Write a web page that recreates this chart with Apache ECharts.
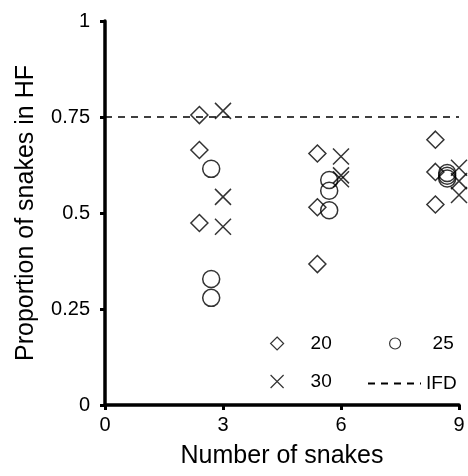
<!DOCTYPE html>
<html>
<head>
<meta charset="utf-8">
<script src="https://cdn.jsdelivr.net/npm/echarts@6/dist/echarts.min.js"></script>
<style>
html,body{margin:0;padding:0;background:#fff;}
#chart{width:468px;height:476px;}
</style>
</head>
<body>
<div id="chart"></div>
<script>
// Data
const snakeCounts = [3, 6, 9];
const xTicks = [0, 3, 6, 9];
const yTicks = [0, 0.25, 0.5, 0.75, 1];
const legendNames = ['20', '25', '30', 'IFD'];
// proportion of snakes in HF, per snake count group (3, 6, 9)
const prop20 = [[0.755, 0.664, 0.474], [0.655, 0.515, 0.367], [0.691, 0.607, 0.522]];
const prop25 = [[0.615, 0.328, 0.279], [0.586, 0.558, 0.507], [0.604, 0.597, 0.590]];
const prop30 = [[0.766, 0.542, 0.464], [0.647, 0.598, 0.588], [0.618, 0.583, 0.547]];
const ifdValue = 0.75;

const FONT = 'Arial, "Liberation Sans", sans-serif';
function pts(groups, offset) {
  const out = [];
  groups.forEach((vals, i) => vals.forEach(v => out.push([snakeCounts[i] + offset, v])));
  return out;
}
const xPath = 'path://M0,0L10,10M10,0L0,10';
const mk = { color: 'rgba(0,0,0,0)', borderColor: '#000', borderWidth: 1.5 };

const chart = echarts.init(document.getElementById('chart'), null, { renderer: 'canvas' });
function legendAt(name, left, top, w, h, padLeft, itemStyle) {
  return {
    data: [name], left: left, top: top, itemWidth: w, itemHeight: h,
    padding: 0, itemGap: 0, selectedMode: false,
    itemStyle: itemStyle,
    textStyle: { fontFamily: FONT, fontSize: 19, color: '#000', padding: [0, 0, 0, padLeft] }
  };
}
const legMark = { color: 'rgba(0,0,0,0)', borderColor: '#000', borderWidth: 1.2 };
const legNone = { color: 'rgba(0,0,0,0)', borderColor: 'rgba(0,0,0,0)', borderWidth: 0 };
chart.setOption({
  animation: false,
  backgroundColor: '#fff',
  grid: { left: 105, right: 9, top: 21, bottom: 71, containLabel: false },
  xAxis: {
    type: 'value', min: 0, max: 9, interval: 3,
    name: 'Number of snakes', nameLocation: 'middle', nameGap: 39,
    nameTextStyle: { fontFamily: FONT, fontSize: 25, color: '#000' },
    axisLine: { lineStyle: { color: '#000', width: 3.5 } },
    axisTick: { show: true, length: 5, lineStyle: { color: '#000', width: 3 } },
    axisLabel: { fontFamily: FONT, fontSize: 20, color: '#000', margin: 10,
      formatter: v => xTicks.includes(v) ? String(v) : '' },
    splitLine: { show: false }
  },
  yAxis: {
    type: 'value', min: 0, max: 1, interval: 0.25,
    name: 'Proportion of snakes in HF', nameLocation: 'middle', nameGap: 66,
    nameTextStyle: { fontFamily: FONT, fontSize: 25, color: '#000' },
    axisLine: { lineStyle: { color: '#000', width: 3.5 } },
    axisTick: { show: true, length: 5, lineStyle: { color: '#000', width: 3 } },
    axisLabel: { fontFamily: FONT, fontSize: 20, color: '#000', margin: 15,
      formatter: v => yTicks.includes(v) ? String(v) : '' },
    splitLine: { show: false }
  },
  legend: [
    legendAt(legendNames[0], 270, 334, 13, 13, 22, legMark),
    legendAt(legendNames[1], 389, 334, 11, 11, 27, legMark),
    legendAt(legendNames[2], 270, 372, 13, 13, 22, legMark),
    legendAt(legendNames[3], 367, 374, 53, 12, 0, legNone)
  ],
  series: [
    { name: legendNames[3], type: 'line', data: [[0, ifdValue], [9, ifdValue]], symbol: 'none', z: 1,
      lineStyle: { color: '#000', width: 1.5, type: [7, 6] },
      itemStyle: { color: 'rgba(0,0,0,0)', borderWidth: 0 } },
    { name: legendNames[0], type: 'scatter', symbol: 'diamond', symbolSize: 17, clip: false,
      data: pts(prop20, -0.6), itemStyle: mk },
    { name: legendNames[1], type: 'scatter', symbol: 'circle', symbolSize: 17, clip: false,
      data: pts(prop25, -0.3), itemStyle: mk },
    { name: legendNames[2], type: 'scatter', symbol: xPath, symbolSize: 16, clip: false,
      data: pts(prop30, 0), itemStyle: mk }
  ]
});
</script>
</body>
</html>
